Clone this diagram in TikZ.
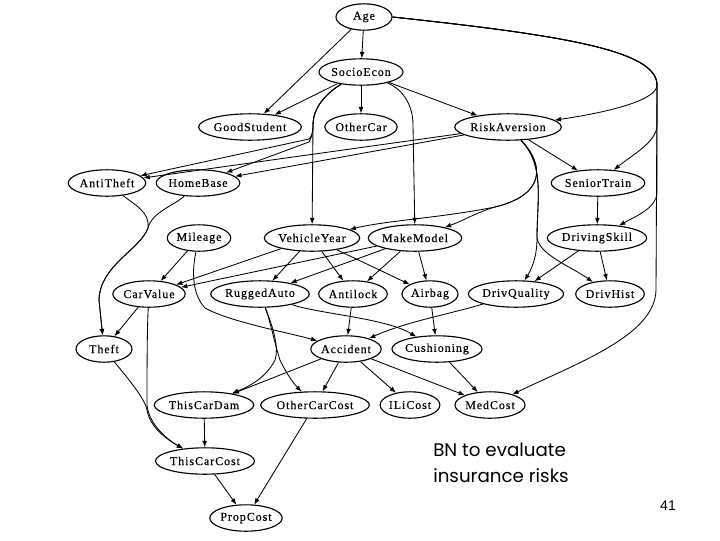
\documentclass[tikz,border=0pt]{standalone}
\usepackage{fontspec}
\usetikzlibrary{shapes.geometric,arrows.meta}
\newfontfamily\netfont[LetterSpace=8,FakeBold=0.4]{Liberation Serif}
\newfontfamily\notefont{Poppins}
\newfontfamily\pagefont{Liberation Sans}

\tikzset{
  var/.style={draw, ellipse, line width=0.8pt, minimum width=1.4cm, minimum height=0.66cm,
    inner xsep=0pt, inner ysep=0pt, font=\netfont\fontsize{8.5}{10}\selectfont},
  dep/.style={-{Latex[length=4.5pt,width=3.4pt]}, line width=0.6pt}
}

\begin{document}
\begin{tikzpicture}[x=0.025cm,y=-0.025cm]
  \useasboundingbox (0,0) rectangle (720,540);

  % variables, row by row
  \node[var] (age) at (364,17) {Age};
  \node[var] (socio) at (361,72) {SocioEcon};
  \node[var] (goodstud) at (250,127) {GoodStudent};
  \node[var] (othercar) at (361,127) {OtherCar};
  \node[var] (riskav) at (508,127) {RiskAversion};
  \node[var] (antitheft) at (107,183) {AntiTheft};
  \node[var] (homebase) at (198,183) {HomeBase};
  \node[var] (seniortr) at (598,183) {SeniorTrain};
  \node[var] (mileage) at (199,238) {Mileage};
  \node[var] (vehyear) at (312,238) {VehicleYear};
  \node[var] (makemodel) at (415,238) {MakeModel};
  \node[var] (drivskill) at (597,238) {DrivingSkill};
  \node[var] (carvalue) at (149,294) {CarValue};
  \node[var] (rugged) at (260,294) {RuggedAuto};
  \node[var] (antilock) at (353,294) {Antilock};
  \node[var] (airbag) at (430,294) {Airbag};
  \node[var] (drivqual) at (516,294) {DrivQuality};
  \node[var] (drivhist) at (610,294) {DrivHist};
  \node[var] (theft) at (104,349) {Theft};
  \node[var] (accident) at (346,349) {Accident};
  \node[var] (cushion) at (437,349) {Cushioning};
  \node[var] (thiscardam) at (204,405) {ThisCarDam};
  \node[var] (othercost) at (315,405) {OtherCarCost};
  \node[var] (ilicost) at (410,405) {ILiCost};
  \node[var] (medcost) at (490,405) {MedCost};
  \node[var] (thiscarcost) at (205,461) {ThisCarCost};
  \node[var] (propcost) at (246,518) {PropCost};

  % Age
  \draw[dep] (age) -- (socio);
  \draw[dep] (age) -- (goodstud);
  \draw[dep] (age.east) .. controls (560,35) and (657,50) .. (657,85) .. controls (657,100) and (610,112) .. (riskav);
  \draw[dep] (age.east) .. controls (560,35) and (657,50) .. (657,85) -- (657,125) .. controls (657,142) and (632,155) .. (seniortr);
  \draw[dep] (age.east) .. controls (560,35) and (657,50) .. (657,85) -- (657,192) .. controls (657,208) and (636,216) .. (drivskill);
  \draw[dep] (age.east) .. controls (560,35) and (657,50) .. (657,85) -- (656,290) .. controls (655,335) and (580,362) .. (medcost);

  % SocioEcon
  \draw[dep] (socio) -- (othercar);
  \draw[dep] (socio) -- (goodstud);
  \draw[dep] (socio) -- (riskav);
  \draw[dep] (socio) .. controls (400,88) and (413,102) .. (413,125) -- (makemodel);
  \draw[dep] (socio) .. controls (335,88) and (313,102) .. (313,125) -- (vehyear);
  \draw[dep] (socio) .. controls (335,88) and (313,102) .. (313,125) .. controls (313,134) and (311,137) .. (309,139) -- (antitheft);
  \draw[dep] (socio) .. controls (335,88) and (313,102) .. (313,125) .. controls (313,134) and (311,139) .. (309,142) -- (homebase);

  % RiskAversion
  \draw[dep] (riskav) -- (antitheft);
  \draw[dep] (riskav) -- (homebase);
  \draw[dep] (riskav) -- (seniortr);
  \draw[dep] (riskav) .. controls (545,165) and (545,195) .. (495,207) .. controls (440,218) and (390,220) .. (vehyear);
  \draw[dep] (riskav) .. controls (545,165) and (545,195) .. (495,207) .. controls (475,213) and (465,220) .. (makemodel);
  \draw[dep] (riskav) .. controls (545,165) and (537,200) .. (537,238) .. controls (537,258) and (531,270) .. (drivqual);
  \draw[dep] (riskav) .. controls (545,165) and (537,200) .. (537,238) .. controls (540,255) and (570,266) .. (drivhist);

  \draw[dep] (seniortr) -- (drivskill);
  \draw[dep] (drivskill) -- (drivqual);
  \draw[dep] (drivskill) -- (drivhist);

  % Mileage, VehicleYear, MakeModel
  \draw[dep] (mileage) -- (carvalue);
  \draw[dep] (mileage) .. controls (193,265) and (190,292) .. (205,308) .. controls (230,322) and (290,333) .. (accident);
  \draw[dep] (vehyear) -- (carvalue);
  \draw[dep] (vehyear) -- (rugged);
  \draw[dep] (vehyear) -- (antilock);
  \draw[dep] (vehyear) -- (airbag);
  \draw[dep] (makemodel) -- (carvalue);
  \draw[dep] (makemodel) -- (rugged);
  \draw[dep] (makemodel) -- (antilock);
  \draw[dep] (makemodel) -- (airbag);

  % Theft
  \draw[dep] (antitheft) .. controls (135,205) and (150,212) .. (148,228) .. controls (140,250) and (100,265) .. (99,300) -- (theft);
  \draw[dep] (homebase) .. controls (175,205) and (152,212) .. (148,228) .. controls (140,250) and (100,265) .. (99,300) -- (theft);
  \draw[dep] (carvalue) -- (theft);
  \draw[dep] (carvalue) .. controls (147,330) and (147,380) .. (147,405) .. controls (149,425) and (168,440) .. (thiscarcost);
  \draw[dep] (theft) .. controls (125,375) and (145,398) .. (147,410) .. controls (150,428) and (168,440) .. (thiscarcost);

  % RuggedAuto and the rest
  \draw[dep] (rugged) .. controls (320,314) and (385,318) .. (cushion);
  \draw[dep] (rugged) .. controls (270,320) and (280,345) .. (275,360) .. controls (265,380) and (245,388) .. (thiscardam);
  \draw[dep] (rugged) .. controls (270,320) and (275,345) .. (280,360) .. controls (287,375) and (295,385) .. (othercost);
  \draw[dep] (antilock) -- (accident);
  \draw[dep] (airbag) -- (cushion);
  \draw[dep] (drivqual) .. controls (450,314) and (405,322) .. (accident);

  \draw[dep] (accident) -- (thiscardam);
  \draw[dep] (accident) -- (othercost);
  \draw[dep] (accident) -- (ilicost);
  \draw[dep] (accident) -- (medcost);
  \draw[dep] (cushion) -- (medcost);
  \draw[dep] (thiscardam) -- (thiscarcost);
  \draw[dep] (thiscarcost) -- (propcost);
  \draw[dep] (othercost) -- (propcost);

  % slide text
  \node[anchor=north west, align=left, inner sep=0pt, font=\notefont\fontsize{13}{18.5}\selectfont] (note) at (433,443) {BN to evaluate\\insurance risks};
  \node[inner sep=0pt, font=\pagefont\fontsize{10}{12}\selectfont] (pagenum) at (668,506) {41};
\end{tikzpicture}
\end{document}
